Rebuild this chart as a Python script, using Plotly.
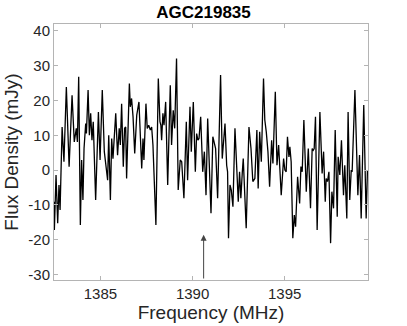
import plotly.graph_objects as go

title_text = "AGC219835"
x_label = "Frequency (MHz)"
y_label = "Flux Density (mJy)"

freq_mhz = [
    1382.48, 1382.50, 1382.59, 1382.68, 1382.75, 1382.81, 1382.92, 1383.02, 1383.15, 1383.30,
    1383.46, 1383.58, 1383.69, 1383.75, 1383.82, 1383.91, 1383.98, 1384.05, 1384.11, 1384.20,
    1384.24, 1384.33, 1384.40, 1384.47, 1384.54, 1384.61, 1384.74, 1384.89, 1384.98, 1385.10,
    1385.21,
    1385.39, 1385.45, 1385.54, 1385.61, 1385.68, 1385.83, 1385.93, 1386.02, 1386.08, 1386.15,
    1386.24, 1386.31, 1386.37, 1386.42, 1386.57, 1386.62, 1386.69, 1386.77, 1386.86, 1386.97,
    1387.09, 1387.24, 1387.31, 1387.36, 1387.47, 1387.54, 1387.62, 1387.71, 1387.78, 1387.85,
    1388.01,
    1388.14, 1388.23, 1388.28, 1388.32, 1388.39, 1388.45, 1388.54, 1388.65, 1388.79, 1388.86,
    1388.95, 1389.03, 1389.13, 1389.22, 1389.33, 1389.41, 1389.53, 1389.66, 1389.73, 1389.86,
    1389.93, 1390.04, 1390.15, 1390.22, 1390.29, 1390.35, 1390.44, 1390.55, 1390.64, 1390.73,
    1390.82,
    1391.00, 1391.10, 1391.18, 1391.25, 1391.36, 1391.52, 1391.61, 1391.68, 1391.76, 1391.85,
    1391.90, 1391.95, 1392.03, 1392.10, 1392.19, 1392.30, 1392.41, 1392.48, 1392.55, 1392.62,
    1392.70, 1392.75, 1392.91, 1393.06, 1393.17, 1393.27, 1393.38, 1393.49, 1393.56, 1393.64,
    1393.73, 1393.85, 1393.92, 1394.00, 1394.09, 1394.18, 1394.29, 1394.36, 1394.49, 1394.58,
    1394.67, 1394.81, 1394.94, 1395.01, 1395.08, 1395.15, 1395.23, 1395.28, 1395.35, 1395.44,
    1395.52, 1395.59, 1395.70, 1395.81, 1395.88, 1395.95, 1396.04, 1396.17, 1396.28, 1396.40,
    1396.49,
    1396.55, 1396.60, 1396.67, 1396.76, 1396.91, 1397.03, 1397.11, 1397.20, 1397.25, 1397.32,
    1397.40, 1397.49, 1397.56, 1397.65, 1397.74, 1397.85, 1397.90, 1397.99, 1398.08, 1398.19,
    1398.26, 1398.37, 1398.44, 1398.53, 1398.61, 1398.66, 1398.81, 1398.97, 1399.06, 1399.15,
    1399.29, 1399.42, 1399.49,
]

flux_mjy = [
    -9.1, -17.2, -1.4, -15.3, -4.3, -11.5, 12.4, 2.4, 23.9, 1.0,
    21.5, 8.1, 12.0, 8.1, 26.8, -15.8, 2.9, -8.6, 6.2, 13.4,
    10.5, 23.0, 10.0, 16.3, 8.6, 13.9, -8.6, 16.7, 2.9, 23.0,
    5.3,
    -2.9, 10.0, -8.6, 9.1, 3.3, 16.3, 4.3, 12.0, 7.2, 19.1,
    1.0, 12.0, 12.4, -2.4, 24.9, 18.2, 20.6, 15.3, 4.8, 15.8,
    19.6, 0.5, 9.1, 2.9, 19.1, 12.0, 12.9, 11.5, 12.4, 7.2,
    -15.8,
    26.3, 13.9, 12.9, 8.6, 16.3, 12.9, 19.6, -4.3, 24.4, 7.2,
    17.2, 12.0, 32.1, -5.7, 2.9, 2.4, -8.1, 13.9, -2.9, 18.2,
    5.3, 19.6, -0.5, 10.5, 8.6, 9.1, 15.3, -0.5, 5.3, -7.2,
    14.8,
    -12.4, 9.6, 8.1, 6.2, -8.1, 27.3, 3.3, 7.2, 13.4, 1.4,
    -0.5, -19.6, -4.3, -5.7, -10.5, 12.0, -1.4, -9.1, -0.5, -8.1,
    -0.5, 3.3, -16.7, 12.4, 6.2, -3.3, -2.4, 11.5, -5.3, 11.0,
    2.4, 26.3, 14.4, 11.0, 5.3, -4.8, 8.6, 1.9, 22.5, 1.4,
    7.2, -7.2, 3.3, 0.0, -0.5, 9.6, 3.8, 6.7, 2.4, -19.6,
    -12.9, -16.3, -1.9, -9.6, 1.0, -0.5, 14.4, -6.2, 6.2, -11.0,
    6.2,
    5.7, 6.2, 15.3, -17.2, 16.7, -1.0, 5.3, -9.1, -2.4, -3.3,
    -0.5, -21.0, -6.2, -11.0, 11.5, -13.4, 3.8, -1.4, 8.6, -7.2,
    1.4, -13.9, 16.7, -8.6, 0.0, -0.5, 23.0, -7.2, 4.3, -13.9,
    18.7, -13.9, 0.0,
]

x_range = [1382.48, 1399.52]
y_range = [-31.6, 42.0]
x_ticks = [1385, 1390, 1395]
y_ticks = [-30, -20, -10, 0, 10, 20, 30, 40]
arrow_freq = 1390.6
arrow_tip = -18.6

axis_col = "#b4b4b4"
text_col = "#262626"
font_fam = "Liberation Sans, Arial, Helvetica, sans-serif"

fig = go.Figure()
fig.add_trace(go.Scatter(
    x=freq_mhz, y=flux_mjy, mode="lines",
    line=dict(color="black", width=1.3),
    hoverinfo="skip", showlegend=False,
))

fig.add_annotation(
    x=arrow_freq, y=arrow_tip, ax=arrow_freq, ay=y_range[0],
    xref="x", yref="y", axref="x", ayref="y",
    showarrow=True, arrowhead=2, arrowsize=1.2, arrowwidth=1,
    arrowcolor="#444444", text="",
)

fig.update_layout(
    width=407, height=326,
    margin=dict(l=54, r=39, t=24, b=46, autoexpand=False),
    paper_bgcolor="white", plot_bgcolor="white",
    font=dict(family=font_fam, color=text_col),
    title=dict(text="<b>" + title_text + "</b>", x=0.5, xref="container",
               y=0.962, yref="container", xanchor="center", yanchor="middle",
               font=dict(size=17, color="black")),
    showlegend=False,
    hovermode=False,
)

fig.update_xaxes(
    range=x_range, tickvals=x_ticks, ticktext=[str(v) for v in x_ticks],
    showgrid=False, zeroline=False, automargin=False,
    showline=True, linecolor=axis_col, linewidth=1, mirror="ticks",
    ticks="inside", ticklen=4, tickcolor=axis_col,
    tickfont=dict(size=15, color=text_col),
    title=dict(text=x_label, font=dict(size=19, color=text_col), standoff=2),
)
fig.update_yaxes(
    range=y_range, tickvals=y_ticks, ticktext=[str(v) for v in y_ticks],
    showgrid=False, zeroline=False, automargin=False,
    showline=True, linecolor=axis_col, linewidth=1, mirror="ticks",
    ticks="inside", ticklen=4, tickcolor=axis_col,
    tickfont=dict(size=15, color=text_col),
    title=dict(text=y_label, font=dict(size=19, color=text_col), standoff=4),
)

fig.write_html(
    "out.html",
    config={"displayModeBar": False, "staticPlot": True},
    post_script="document.body.style.margin='0';document.body.style.overflow='hidden';",
)
